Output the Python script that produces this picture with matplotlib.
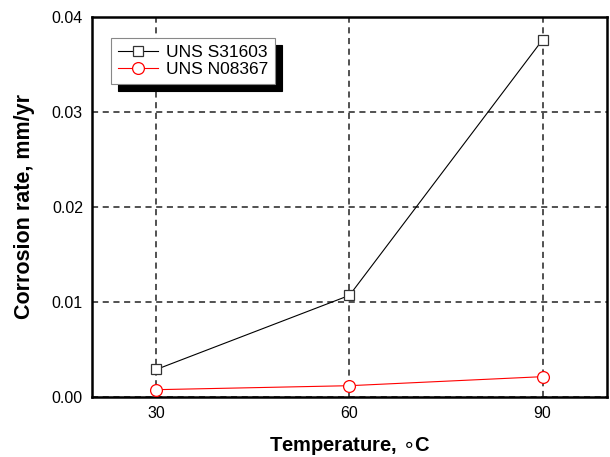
import matplotlib
matplotlib.use("Agg")
import matplotlib.pyplot as plt
from matplotlib.ticker import FormatStrFormatter

temperature = [30, 60, 90]
rate_s31603 = [0.0029, 0.0107, 0.0376]
rate_n08367 = [0.00077, 0.00119, 0.00214]
x_ticks = [30, 60, 90]
y_ticks = [0.0, 0.01, 0.02, 0.03, 0.04]

plt.rcParams["font.family"] = ["Liberation Sans", "DejaVu Sans"]

fig = plt.figure(figsize=(6.1, 4.57), dpi=100)
ax = fig.add_axes([0.1508, 0.1313, 0.8442, 0.8315])

ax.plot(temperature, rate_s31603, color="black", lw=0.8,
        marker="s", ms=7, mfc="white", mec="#333333", mew=0.9,
        label="UNS S31603", zorder=3)
ax.plot(temperature, rate_n08367, color="red", lw=0.8,
        marker="o", ms=8.5, mfc="white", mec="red", mew=0.9,
        label="UNS N08367", zorder=3)

ax.set_xlim(20, 100)
ax.set_ylim(0, 0.04)
ax.set_xticks(x_ticks)
ax.set_yticks(y_ticks)
ax.yaxis.set_major_formatter(FormatStrFormatter("%.2f"))
ax.grid(True, color="#222222", linestyle=(0, (4, 3)), lw=1.1)
ax.tick_params(length=0, labelsize=11.5, pad=6.5)

for s in ax.spines.values():
    s.set_linewidth(1.8)

ax.set_xlabel(r"Temperature, $\circ$C", fontsize=14.5, fontweight="bold", labelpad=10)
ax.set_ylabel("Corrosion rate, mm/yr", fontsize=15.5, fontweight="bold", labelpad=12)

leg = ax.legend(loc="upper left", bbox_to_anchor=(0.037, 0.945), borderaxespad=0,
                fancybox=False, framealpha=1, edgecolor="#888888", fontsize=12.5,
                handlelength=2.3, handletextpad=0.45, borderpad=0.4, labelspacing=0.1,
                shadow={"color": "black", "alpha": 1, "ox": 5, "oy": -5})
leg.get_frame().set_linewidth(0.8)

fig.savefig("out.png", dpi=100)
